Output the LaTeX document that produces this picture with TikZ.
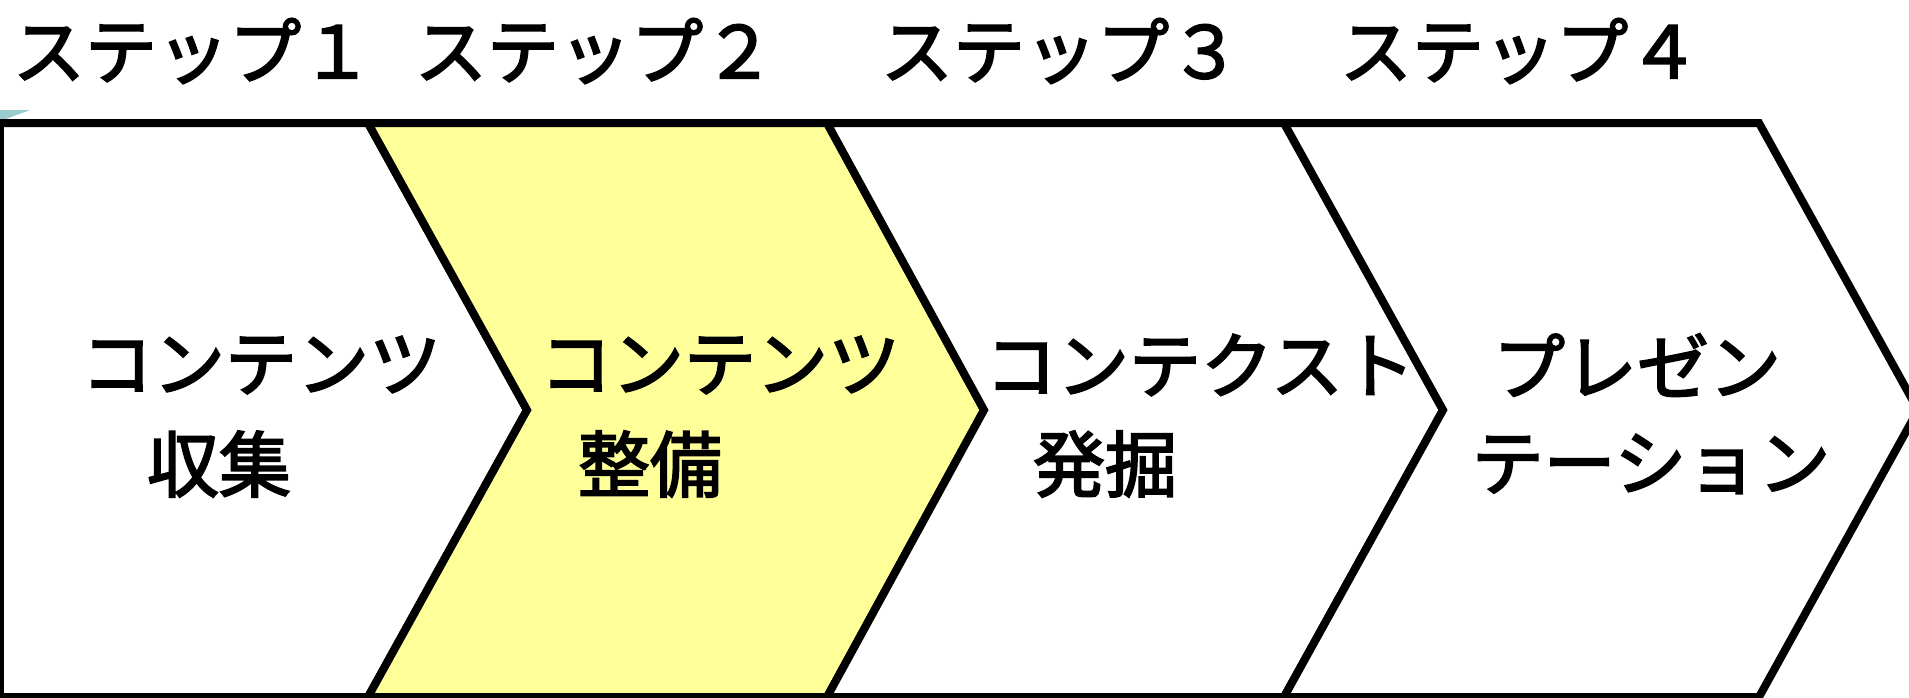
\documentclass[tikz,border=0pt]{standalone}
\usepackage{fontspec}
\newfontfamily\jp{Noto Sans CJK JP}[FakeBold=2.6]
\definecolor{paleyellow}{RGB}{255,255,153}
\definecolor{paleteal}{RGB}{153,204,204}
\begin{document}
\begin{tikzpicture}[x=0.02cm,y=-0.02cm]
  \tikzset{
    chev/.style={draw=black,line width=0.16cm,fill=white},
    lbl/.style={inner sep=0pt,font=\jp\fontsize{41}{49}\selectfont}
  }
  \useasboundingbox (0,0) rectangle (1909,697);
  \clip (0,0) rectangle (1909,697);
  \fill[paleteal] (0,110) -- (30,110) -- (6,119) -- (0,119) -- cycle;
  % the four steps
  \draw[chev] (0,123) -- (368,123) -- (527,410) -- (368,697) -- (0,697) -- cycle;
  \draw[chev,fill=paleyellow] (368,123) -- (827,123) -- (984,410) -- (827,697) -- (368,697) -- (527,410) -- cycle;
  \draw[chev] (827,123) -- (1284,123) -- (1443,410) -- (1284,697) -- (827,697) -- (984,410) -- cycle;
  \draw[chev] (1284,123) -- (1759,123) -- (1918,410) -- (1759,697) -- (1284,697) -- (1443,410) -- cycle;
  \draw
    (193,51) node[lbl] (s1){ステップ１}
    (595,51) node[lbl] (s2){ステップ２}
    (1061,51) node[lbl] (s3){ステップ３}
    (1520,51) node[lbl] (s4){ステップ４};
  \draw
    (261,365) node[lbl] (c1a){コンテンツ}
    (219,464) node[lbl] (c1b){収集}
    (720,365) node[lbl] (c2a){コンテンツ}
    (650,464) node[lbl] (c2b){整備}
    (1200,365) node[lbl] (c3a){コンテクスト}
    (1105,464) node[lbl] (c3b){発掘}
    (1637,365) node[lbl] (c4a){プレゼン}
    (1651,464) node[lbl] (c4b){テーション};
\end{tikzpicture}
\end{document}
